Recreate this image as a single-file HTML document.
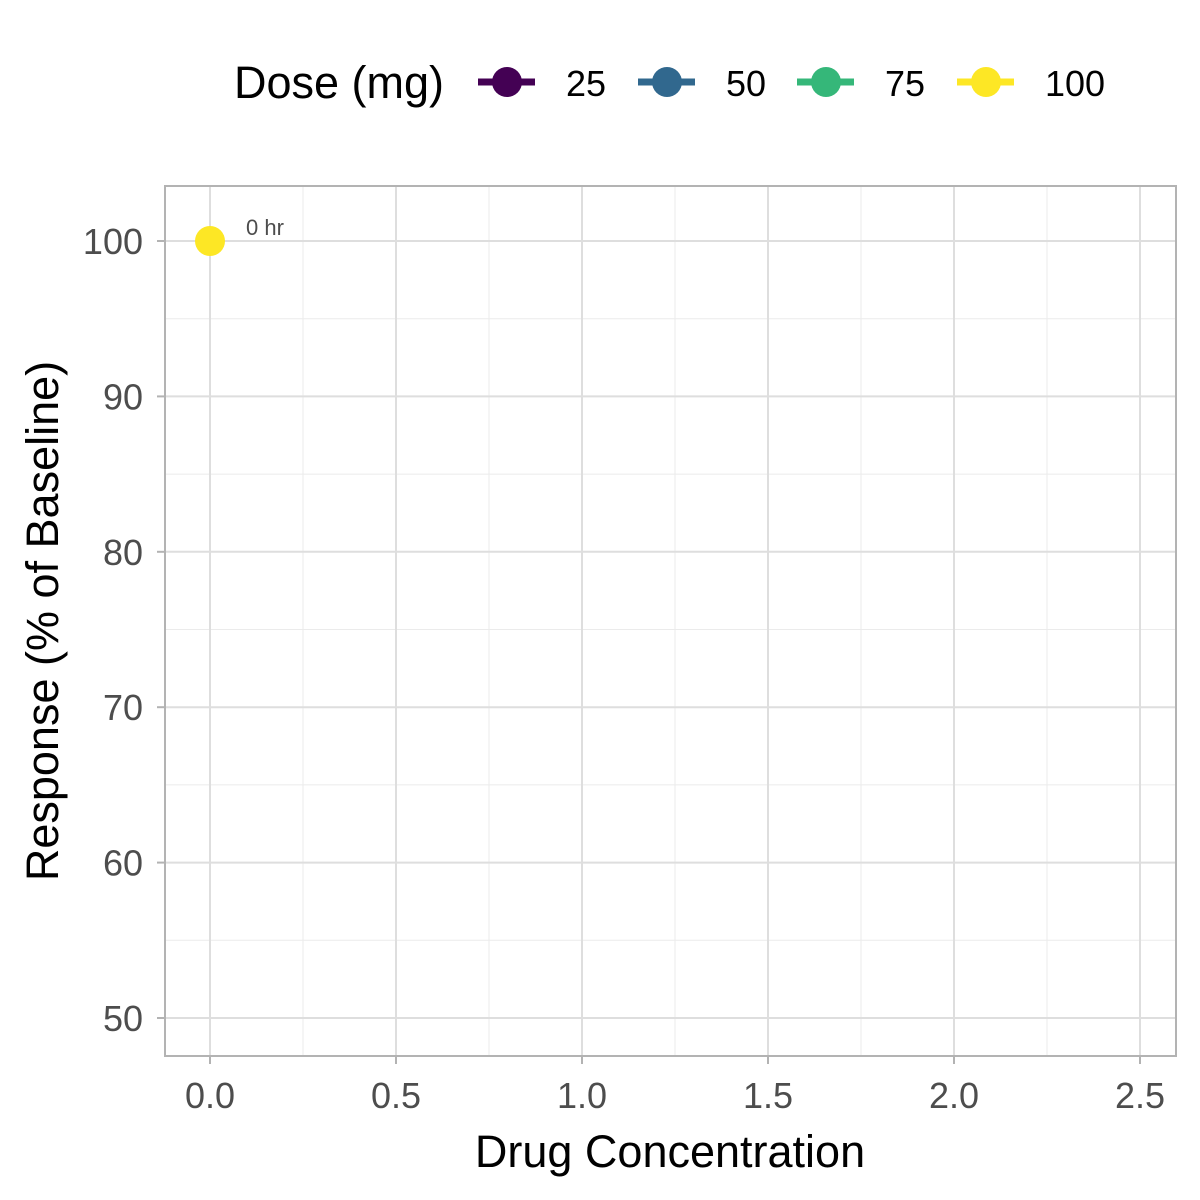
<!DOCTYPE html>
<html><head><meta charset="utf-8"><style>
body{margin:0;background:#fff;}
svg{display:block;font-family:"Liberation Sans",sans-serif;}
</style></head><body>
<svg id="chart" width="1200" height="1200">
<rect width="1200" height="1200" fill="#fff"/>
<g id="grid"></g>
<g id="marks"></g>
<rect x="165" y="186" width="1011" height="870" fill="none" stroke="#b3b3b3" stroke-width="2"/>
<g id="axes"></g>
<text x="670" y="1167" font-size="45" text-anchor="middle" fill="#000">Drug Concentration</text>
<text transform="translate(58,621) rotate(-90)" font-size="45" text-anchor="middle" fill="#000">Response (% of Baseline)</text>
<g id="legend">
<text x="234" y="98" font-size="45" fill="#000">Dose (mg)</text>
</g>
</svg>
<script>
const xTicks=[0,0.5,1.0,1.5,2.0,2.5];
const xTickLabels=["0.0","0.5","1.0","1.5","2.0","2.5"];
const yTicks=[50,60,70,80,90,100];
const doseLevels=["25","50","75","100"];
const doseColors=["#440154","#31688e","#35b779","#fde725"];
const pointX=[0];
const pointY=[100];
const pointDose=["100"];
const pointLabels=["0 hr"];

const NS="http://www.w3.org/2000/svg";
function xs(v){return 210+v*372;}
function ys(v){return 241+(100-v)*15.54;}
function mk(tag,attrs,parent){const e=document.createElementNS(NS,tag);for(const k in attrs)e.setAttribute(k,attrs[k]);parent.appendChild(e);return e;}
const grid=document.getElementById('grid'),axes=document.getElementById('axes'),marks=document.getElementById('marks'),legend=document.getElementById('legend');
for(let i=0;i<xTicks.length-1;i++){const v=(xTicks[i]+xTicks[i+1])/2;
 const l=mk('line',{x1:xs(v),x2:xs(v),y1:186,y2:1056,stroke:'#ebebeb','stroke-width':1},grid);
 
 }
for(let i=0;i<yTicks.length-1;i++){const v=(yTicks[i]+yTicks[i+1])/2;
 const l=mk('line',{x1:165,x2:1176,y1:ys(v),y2:ys(v),stroke:'#ebebeb','stroke-width':1},grid);
 
 }
xTicks.forEach((v,i)=>{
 const l=mk('line',{x1:xs(v),x2:xs(v),y1:186,y2:1056,stroke:'#dedede','stroke-width':2},grid);
 
 
 const t=mk('line',{x1:xs(v),x2:xs(v),y1:1056,y2:1064,stroke:'#b3b3b3','stroke-width':2},axes);
 
 
 const tx=mk('text',{x:xs(v),y:1108,'font-size':36,'text-anchor':'middle',fill:'#4d4d4d'},axes);
 tx.textContent=xTickLabels[i];
 
 
});
yTicks.forEach(v=>{
 const l=mk('line',{x1:165,x2:1176,y1:ys(v),y2:ys(v),stroke:'#dedede','stroke-width':2},grid);
 
 
 const t=mk('line',{x1:157,x2:165,y1:ys(v),y2:ys(v),stroke:'#b3b3b3','stroke-width':2},axes);
 
 
 const tx=mk('text',{x:143,y:ys(v)+13,'font-size':36,'text-anchor':'end',fill:'#4d4d4d'},axes);
 tx.textContent=String(v);
 
 
});
pointX.forEach((v,i)=>{
 const c=mk('circle',{cx:xs(v),cy:ys(pointY[i]),r:15,fill:doseColors[doseLevels.indexOf(pointDose[i])]},marks);
 
 
 const t=mk('text',{x:xs(v)+36,y:ys(pointY[i])-6,'font-size':22,fill:'#4d4d4d'},marks);
 t.textContent=pointLabels[i];
 
 
});
const keyX=[507,667,826,986];
doseLevels.forEach((d,i)=>{
 const g=mk('g',{},legend);
 
 
 mk('line',{x1:keyX[i]-29,x2:keyX[i]+28,y1:82,y2:82,stroke:doseColors[i],'stroke-width':7},g);
 mk('circle',{cx:keyX[i],cy:82,r:15,fill:doseColors[i]},g);
 const t=mk('text',{x:keyX[i]+59,y:96,'font-size':36,fill:'#000'},g);
 t.textContent=d;
});
</script>
</body></html>
